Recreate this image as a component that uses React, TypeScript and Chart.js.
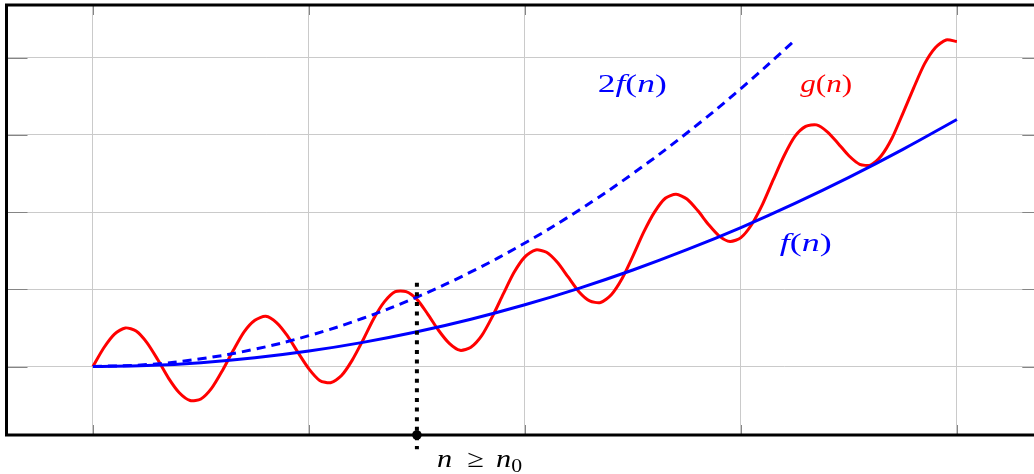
import { useEffect, useRef } from 'react';
import { Chart, registerables } from 'chart.js';

Chart.register(...registerables);

// f(n): solid blue
const F_X = [0, 0.25, 0.5, 0.75, 1, 1.25, 1.5, 1.75, 2, 2.25, 2.5, 2.75, 3, 3.25, 3.5, 3.75, 4];
const F_Y = [0, 0.013, 0.05, 0.113, 0.2, 0.313, 0.45, 0.613, 0.8, 1.013, 1.25, 1.513, 1.8, 2.113, 2.45, 2.813, 3.2];

// 2f(n): dashed blue
const F2_X = [0, 0.25, 0.5, 0.75, 1, 1.25, 1.5, 1.75, 2, 2.25, 2.5, 2.75, 3, 3.24];
const F2_Y = [0, 0.025, 0.1, 0.225, 0.4, 0.625, 0.9, 1.225, 1.6, 2.025, 2.5, 3.025, 3.6, 4.2];

// g(n): red oscillating
const G_X = [
  0, 0.05, 0.1, 0.15, 0.2, 0.25, 0.3, 0.35, 0.4, 0.45,
  0.5, 0.55, 0.6, 0.65, 0.7, 0.75, 0.8, 0.85, 0.9, 0.95,
  1, 1.05, 1.1, 1.15, 1.2, 1.25, 1.3, 1.35, 1.4, 1.45,
  1.5, 1.55, 1.6, 1.65, 1.7, 1.75, 1.8, 1.85, 1.9, 1.95,
  2, 2.05, 2.1, 2.15, 2.2, 2.25, 2.3, 2.35, 2.4, 2.45,
  2.5, 2.55, 2.6, 2.65, 2.7, 2.75, 2.8, 2.85, 2.9, 2.95,
  3, 3.05, 3.1, 3.15, 3.2, 3.25, 3.3, 3.35, 3.4, 3.45,
  3.5, 3.55, 3.6, 3.65, 3.7, 3.75, 3.8, 3.85, 3.9, 3.95,
  4,
];
const G_Y = [
  0.0, 0.24, 0.42, 0.5, 0.46, 0.31, 0.09, -0.15, -0.34, -0.44,
  -0.42, -0.28, -0.05, 0.21, 0.45, 0.6, 0.65, 0.57, 0.4, 0.18,
  -0.03, -0.18, -0.21, -0.12, 0.08, 0.34, 0.62, 0.84, 0.97, 0.97,
  0.87, 0.68, 0.47, 0.3, 0.21, 0.25, 0.4, 0.65, 0.94, 1.22,
  1.42, 1.51, 1.48, 1.35, 1.16, 0.97, 0.85, 0.83, 0.93, 1.14,
  1.43, 1.74, 2.0, 2.18, 2.23, 2.17, 2.02, 1.84, 1.69, 1.62,
  1.67, 1.84, 2.1, 2.42, 2.73, 2.98, 3.11, 3.13, 3.04, 2.89,
  2.73, 2.62, 2.61, 2.73, 2.96, 3.28, 3.61, 3.92, 4.13, 4.23,
  4.21,
];

// n0 marker
const N0_X = [1.5, 1.5];
const N0_Y = [1.085, -1.07];
const N0_DOT_Y = -0.887;

// grid tick positions
const X_TICKS = [0, 1, 2, 3, 4];
const Y_TICKS = [0, 1, 2, 3, 4];

const X_MIN = -0.4;
const X_MAX = 4.4;
const Y_MIN = -0.887;
const Y_MAX = 4.683;

type Part = { t?: string; it?: boolean; sub?: boolean; gap?: number };
type MathLabel = { parts: Part[]; x: number; y: number; w: number; color: string; size: number };

const LABELS: MathLabel[] = [
  {
    parts: [{ t: '2' }, { t: 'f', it: true }, { t: '(' }, { t: 'n', it: true }, { t: ')' }],
    x: 2.497, y: 3.556, w: 69, color: '#0000ff', size: 25,
  },
  {
    parts: [{ t: 'g', it: true }, { t: '(' }, { t: 'n', it: true }, { t: ')' }],
    x: 3.395, y: 3.556, w: 52, color: '#ff0000', size: 25,
  },
  {
    parts: [{ t: 'f', it: true }, { t: '(' }, { t: 'n', it: true }, { t: ')' }],
    x: 3.30, y: 1.49, w: 52, color: '#0000ff', size: 25,
  },
  {
    parts: [
      { t: 'n', it: true }, { gap: 0.5 }, { t: '≥' }, { gap: 0.4 },
      { t: 'n', it: true }, { t: '0', sub: true },
    ],
    x: 1.79, y: -1.298, w: 85, color: '#000000', size: 25,
  },
];

const FAMILY = '"Liberation Serif", "Times New Roman", serif';

function fontFor(p: Part, size: number) {
  const s = p.sub ? size * 0.72 : size;
  return `${p.it ? 'italic ' : ''}${s}px ${FAMILY}`;
}

const framePlugin = {
  id: 'frame',
  beforeDatasetsDraw(chart: any) {
    const { ctx, chartArea: a, scales } = chart;
    const xs = scales.x;
    const ys = scales.y;
    ctx.save();
    ctx.strokeStyle = '#858585';
    ctx.lineWidth = 1;
    ctx.beginPath();
    X_TICKS.forEach((v) => {
      const px = Math.round(xs.getPixelForValue(v)) + 0.5;
      ctx.moveTo(px, a.top);
      ctx.lineTo(px, a.top + 10);
      ctx.moveTo(px, a.bottom - 10);
      ctx.lineTo(px, a.bottom);
    });
    Y_TICKS.forEach((v) => {
      const py = Math.round(ys.getPixelForValue(v)) + 0.5;
      ctx.moveTo(a.left, py);
      ctx.lineTo(a.left + 21, py);
      ctx.moveTo(a.right - 21, py);
      ctx.lineTo(a.right, py);
    });
    ctx.stroke();
    ctx.strokeStyle = '#000000';
    ctx.lineWidth = 3;
    ctx.strokeRect(a.left, a.top, a.right - a.left, a.bottom - a.top);
    ctx.restore();
  },
};

const labelPlugin = {
  id: 'mathLabels',
  afterDatasetsDraw(chart: any) {
    const { ctx, scales } = chart;
    LABELS.forEach((lab) => {
      ctx.save();
      let total = 0;
      const widths = lab.parts.map((p) => {
        if (p.gap !== undefined) return p.gap * lab.size;
        ctx.font = fontFor(p, lab.size);
        return ctx.measureText(p.t as string).width;
      });
      widths.forEach((w) => (total += w));
      const sx = lab.w / total;
      const cx = scales.x.getPixelForValue(lab.x);
      const by = scales.y.getPixelForValue(lab.y);
      ctx.translate(cx - lab.w / 2, by);
      ctx.scale(sx, 1);
      ctx.fillStyle = lab.color;
      ctx.textBaseline = 'alphabetic';
      ctx.textAlign = 'left';
      let pos = 0;
      lab.parts.forEach((p, i) => {
        if (p.gap === undefined) {
          ctx.font = fontFor(p, lab.size);
          ctx.fillText(p.t as string, pos, p.sub ? lab.size * 0.2 : 0);
        }
        pos += widths[i];
      });
      ctx.restore();
    });
  },
};

export default function App() {
  const ref = useRef<HTMLCanvasElement>(null);

  useEffect(() => {
    document.body.style.margin = '0';
    const canvas = ref.current;
    if (!canvas) return;
    const toPts = (xs: number[], ys: number[]) => xs.map((x, i) => ({ x, y: ys[i] }));
    const chart = new Chart(canvas, {
      type: 'line',
      data: {
        datasets: [
          {
            label: 'n0 dot',
            data: toPts([N0_X[0]], [N0_DOT_Y]),
            showLine: false,
            pointRadius: 4.8,
            pointBackgroundColor: '#000000',
            pointBorderWidth: 0,
            clip: false,
          } as any,
          {
            label: 'n0',
            data: toPts(N0_X, N0_Y),
            borderColor: '#000000',
            borderWidth: 4,
            borderDash: [4, 5.6],
            pointRadius: 0,
            tension: 0,
            clip: false,
          } as any,
          {
            label: 'f(n)',
            data: toPts(F_X, F_Y),
            borderColor: '#0000ff',
            borderWidth: 3,
            pointRadius: 0,
            tension: 0.4,
            borderJoinStyle: 'round',
          },
          {
            label: '2f(n)',
            data: toPts(F2_X, F2_Y),
            borderColor: '#0000ff',
            borderWidth: 3,
            borderDash: [9, 6],
            pointRadius: 0,
            tension: 0.4,
          },
          {
            label: 'g(n)',
            data: toPts(G_X, G_Y),
            borderColor: '#ff0000',
            borderWidth: 3,
            pointRadius: 0,
            tension: 0.25,
            borderJoinStyle: 'round',
          },
        ],
      },
      options: {
        responsive: false,
        maintainAspectRatio: false,
        animation: false,
        devicePixelRatio: 1,
        layout: { padding: { left: 6.5, top: 5, right: 1050 - 1043.3, bottom: 39 } },
        plugins: { legend: { display: false }, tooltip: { enabled: false }, title: { display: false } },
        scales: {
          x: {
            type: 'linear',
            min: X_MIN,
            max: X_MAX,
            afterBuildTicks: (scale: any) => {
              scale.ticks = X_TICKS.map((value) => ({ value }));
            },
            ticks: { display: false },
            grid: { color: '#cacaca', lineWidth: 1, drawTicks: false },
            border: { display: false },
          },
          y: {
            type: 'linear',
            min: Y_MIN,
            max: Y_MAX,
            afterBuildTicks: (scale: any) => {
              scale.ticks = Y_TICKS.map((value) => ({ value }));
            },
            ticks: { display: false },
            grid: { color: '#cacaca', lineWidth: 1, drawTicks: false },
            border: { display: false },
          },
        },
      },
      plugins: [framePlugin, labelPlugin],
    });
    return () => chart.destroy();
  }, []);

  return (
    <div style={{ width: 1034, height: 474, overflow: 'hidden', position: 'relative' }}>
      <canvas ref={ref} width={1050} height={474} style={{ display: 'block' }} />
    </div>
  );
}
